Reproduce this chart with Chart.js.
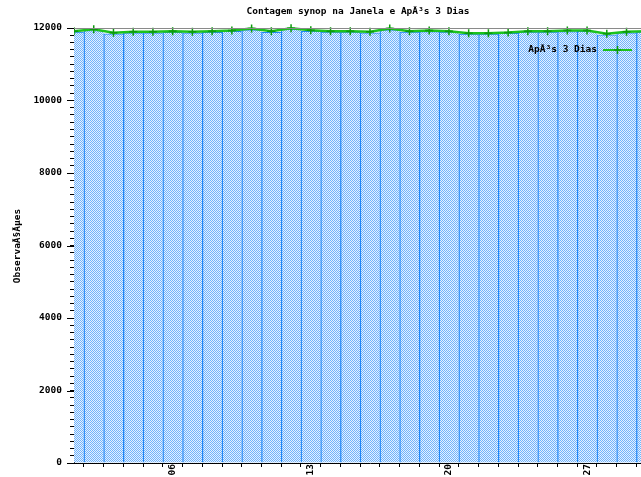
<!DOCTYPE html>
<html>
<head>
<meta charset="utf-8">
<script src="https://cdn.jsdelivr.net/npm/chart.js@4.4.0/dist/chart.umd.min.js"></script>
<style>
  html, body { margin: 0; padding: 0; background: #fff; overflow: hidden; }
  #wrap { width: 641px; height: 477px; overflow: hidden; }
</style>
</head>
<body>
<div id="wrap"><canvas id="myChart" width="690" height="477"></canvas></div>
<script>
// Dados (dias do mês)
const dias = [1, 2, 3, 4, 5, 6, 7, 8, 9, 10, 11, 12, 13, 14, 15, 16, 17, 18, 19, 20, 21, 22, 23, 24, 25, 26, 27, 28, 29, 30];
const naJanela = [11885, 11930, 11840, 11870, 11870, 11880, 11870, 11880, 11905, 11950, 11880, 11960, 11910, 11885, 11885,
                  11870, 11950, 11885, 11900, 11885, 11830, 11830, 11850, 11885, 11885, 11900, 11905, 11810, 11870, 11885];
const apos3Dias = [11912, 11967, 11867, 11895, 11895, 11912, 11895, 11912, 11931, 11986, 11912, 11995, 11939, 11912, 11912,
                   11895, 11986, 11912, 11931, 11912, 11856, 11856, 11876, 11912, 11912, 11931, 11931, 11840, 11895, 11912];
const diasRotulados = [6, 13, 20, 27];
const yMax = 12000;

const titulo = 'Contagem synop na Janela e ApÃ³s 3 Dias';
const rotuloY = 'ObservaÃ§Ãµes';
const rotuloLinha = 'ApÃ³s 3 Dias';

const fonte = 'bold 9.5px "DejaVu Sans Mono", monospace';
const verde = '#1cc21c';
const verdeEscuro = '#0b9a0b';

// padrão quadriculado das barras
var pc = document.createElement('canvas');
pc.width = 2; pc.height = 2;
var pctx = pc.getContext('2d');
pctx.fillStyle = '#e4f1ff'; pctx.fillRect(0, 0, 2, 2);
pctx.fillStyle = '#72b3fb'; pctx.fillRect(0, 0, 1, 1); pctx.fillRect(1, 1, 1, 1);

const ctx = document.getElementById('myChart');
const padrao = ctx.getContext('2d').createPattern(pc, 'repeat');

// eixo x vai além da janela (1 a 31), a parte direita fica cortada
const xMin = 1;
const xMax = 31;

// textos, borda superior e legenda
const extras = {
  id: 'extras',
  afterDraw(chart) {
    const c = chart.ctx;
    const a = chart.chartArea;
    const ys = chart.scales.y;
    c.save();
    c.font = fonte;
    c.fillStyle = '#000';
    c.textBaseline = 'middle';
    c.textAlign = 'center';
    c.fillText(titulo, 358, 12);

    // borda superior
    c.strokeStyle = '#8a8a8a';
    c.lineWidth = 1;
    c.beginPath();
    c.moveTo(a.left, a.top + 0.5);
    c.lineTo(a.right, a.top + 0.5);
    c.stroke();

    // marcas maiores no eixo y
    c.strokeStyle = '#000';
    for (var v = 0; v <= yMax; v += 2000) {
      var py = Math.round(ys.getPixelForValue(v)) + 0.5;
      c.beginPath();
      c.moveTo(a.left - 7, py);
      c.lineTo(a.left, py);
      c.stroke();
    }

    // rótulo do eixo y
    c.save();
    c.translate(18, 246);
    c.rotate(-Math.PI / 2);
    c.fillText(rotuloY, 0, 0);
    c.restore();

    // legenda
    c.textAlign = 'right';
    c.fillText(rotuloLinha, 597, 50);
    c.strokeStyle = verde;
    c.lineWidth = 2;
    c.beginPath();
    c.moveTo(603, 50);
    c.lineTo(632, 50);
    c.stroke();
    c.strokeStyle = verdeEscuro;
    c.lineWidth = 1.5;
    c.beginPath();
    c.moveTo(617.5, 46);
    c.lineTo(617.5, 54);
    c.moveTo(614, 50);
    c.lineTo(621, 50);
    c.stroke();
    c.restore();
  }
};

new Chart(ctx, {
  type: 'bar',
  data: {
    datasets: [{
      type: 'line',
      label: rotuloLinha,
      data: dias.map(function (d, i) { return { x: d, y: apos3Dias[i] }; }),
      borderColor: verde,
      borderWidth: 2.5,
      pointStyle: 'cross',
      pointRadius: 4,
      pointBorderColor: verdeEscuro,
      pointBorderWidth: 1.5,
      tension: 0,
      order: 0,
      clip: { left: 0, right: 0, top: 10, bottom: 0 }
    }, {
      type: 'bar',
      label: 'Na Janela',
      data: dias.map(function (d, i) { return { x: d, y: naJanela[i] }; }),
      backgroundColor: padrao,
      borderColor: '#1f86f7',
      borderWidth: { left: 1.3, right: 0, top: 1, bottom: 0 },
      borderSkipped: false,
      barPercentage: 1,
      categoryPercentage: 1,
      order: 1,
      clip: 0
    }]
  },
  options: {
    responsive: false,
    animation: false,
    events: [],
    layout: { padding: { top: 28, left: 0, right: 24, bottom: 0 } },
    plugins: {
      legend: { display: false },
      title: { display: false },
      tooltip: { enabled: false }
    },
    scales: {
      x: {
        type: 'linear',
        min: xMin,
        max: xMax,
        offset: false,
        afterBuildTicks: function (scale) {
          var t = [];
          for (var d = xMin; d <= xMax; d++) t.push({ value: d });
          scale.ticks = t;
        },
        afterFit: function (scale) { scale.height = 14; },
        grid: { display: true, drawOnChartArea: false, drawTicks: true, tickLength: 4, color: '#000' },
        border: { display: true, color: '#000', width: 1 },
        ticks: {
          autoSkip: false,
          minRotation: 90,
          maxRotation: 90,
          padding: -3,
          color: '#000',
          font: { family: '"DejaVu Sans Mono", monospace', size: 9.5, weight: 'bold' },
          callback: function (v) {
            return diasRotulados.indexOf(v) >= 0 ? String(v).padStart(2, '0') : '';
          }
        }
      },
      y: {
        min: 0,
        max: yMax,
        afterFit: function (scale) { scale.width = 74; },
        grid: { display: true, drawOnChartArea: false, drawTicks: true, tickLength: 4, color: '#000' },
        border: { display: true, color: '#000', width: 1 },
        ticks: {
          stepSize: 200,
          autoSkip: false,
          padding: 8,
          color: '#000',
          font: { family: '"DejaVu Sans Mono", monospace', size: 9.5, weight: 'bold' },
          callback: function (v) { return v % 2000 === 0 ? String(v) : ''; }
        }
      }
    }
  },
  plugins: [extras]
});
</script>
</body>
</html>
